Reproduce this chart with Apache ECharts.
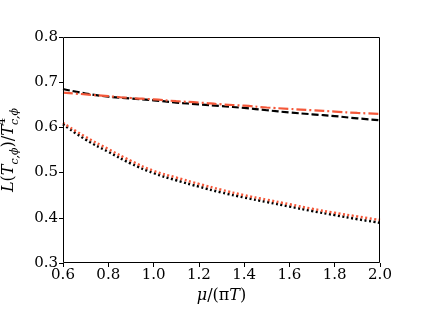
<!DOCTYPE html>
<html><head><meta charset="utf-8">
<script src="https://cdn.jsdelivr.net/npm/echarts@6/dist/echarts.min.js"></script>
<style>html,body{margin:0;padding:0;background:#fff}#c{width:422px;height:317px}</style>
</head><body><div id="c"></div>
<script>
var mu = [0.6, 0.7, 0.8, 0.9, 1.0, 1.1, 1.2, 1.3, 1.4, 1.5, 1.6, 1.7, 1.8, 1.9, 2.0];
var blackDashed = [0.685, 0.675, 0.668, 0.664, 0.660, 0.655, 0.651, 0.647, 0.643, 0.638, 0.633, 0.629, 0.625, 0.620, 0.616];
var redDashDot  = [0.677, 0.673, 0.669, 0.665, 0.662, 0.658, 0.655, 0.651, 0.648, 0.644, 0.641, 0.638, 0.635, 0.632, 0.630];
var blackDotted = [0.607, 0.573, 0.546, 0.520, 0.499, 0.483, 0.469, 0.456, 0.445, 0.435, 0.425, 0.415, 0.406, 0.397, 0.389];
var redDotted   = [0.610, 0.579, 0.552, 0.526, 0.504, 0.489, 0.475, 0.462, 0.450, 0.440, 0.430, 0.420, 0.411, 0.403, 0.395];
var xTicks = [0.6, 0.8, 1.0, 1.2, 1.4, 1.6, 1.8, 2.0];

function pairs(ys){ return mu.map(function(x,i){ return [x, ys[i]]; }); }
var serifName = 'DejaVu Serif';
var serif = '"DejaVu Serif", "Liberation Serif", serif';
var red = '#f4583a';

// y-axis title built from pieces (rotated)
var cv = document.createElement('canvas').getContext('2d');
function w(txt, size, italic){ cv.font = (italic?'italic ':'') + size + 'px "' + serifName + '"'; return cv.measureText(txt).width; }
var pieces = [
  {t:'L', s:16, i:true, dy:0},
  {t:'(', s:16, i:false, dy:0},
  {t:'T', s:16, i:true, dy:0},
  {t:'c,ϕ', s:11, i:true, dy:4},
  {t:')/', s:16, i:false, dy:0},
  {t:'T', s:16, i:true, dy:0},
  {t:'4', s:11, i:false, dy:-9, stack:true},
  {t:'c,ϕ', s:11, i:true, dy:4}
];
var xpos = 0, els = [], stackX = null;
pieces.forEach(function(p){
  var x = xpos;
  if (p.stack) { stackX = xpos; }
  else if (stackX !== null) { x = stackX; }
  els.push({type:'text', x:x, y:p.dy, style:{text:p.t, font:(p.i?'italic ':'') + p.s + 'px ' + serif, fill:'#000', align:'left', verticalAlign:'bottom', textAlign:'left', textVerticalAlign:'bottom'}});
  var ww = w(p.t, p.s, p.i);
  if (p.stack) { p._w = ww; }
  else if (stackX !== null) { xpos = stackX + Math.max(ww, pieces[6]._w); }
  else xpos += ww;
});
var totalW = xpos;
els.forEach(function(e){ e.x -= totalW/2; });

var chart = echarts.init(document.getElementById('c'));
function line(data, color, dash, width, z){
  return {type:'line', data: pairs(data), showSymbol:false, smooth:true, z:z,
    lineStyle:{color:color, width:width, type:dash, cap:'butt'}};
}
chart.setOption({
  animation:false,
  grid:{left:63, right:42, top:37, bottom:54},
  xAxis:{type:'value', min:0.6, max:2.0, interval:0.2,
    axisLine:{show:false},
    axisTick:{show:true, length:4, lineStyle:{color:'#000'}},
    splitLine:{show:false},
    axisLabel:{color:'#000', fontFamily:serif, fontSize:15, margin:5,
      formatter:function(v){ return v.toFixed(1); }},
    name:'{i|μ}/(π{i|T})', nameLocation:'middle', nameGap:25,
    nameTextStyle:{color:'#000', fontFamily:serif, fontSize:16,
      rich:{i:{fontFamily:serif, fontStyle:'italic', fontSize:16, color:'#000'}}}
  },
  yAxis:{type:'value', min:0.3, max:0.8, interval:0.1,
    axisLine:{show:false},
    axisTick:{show:true, length:4, lineStyle:{color:'#000'}},
    splitLine:{show:false},
    axisLabel:{color:'#000', fontFamily:serif, fontSize:15, margin:5,
      formatter:function(v){ return v.toFixed(1); }}
  },
  graphic:[
    {type:'rect', shape:{x:63.5, y:37.5, width:316, height:225}, style:{fill:'none', stroke:'#000', lineWidth:1}, z:10, silent:true},
    {type:'group', x:17, y:150, rotation:Math.PI/2, children:els, silent:true}
  ],
  series:[
    line(blackDashed, '#000', [7,3], 2.2, 2),
    line(redDashDot, red, [10,3,2,3], 2.2, 3),
    line(blackDotted, '#000', [2,2.5], 2.5, 2),
    line(redDotted, red, [2,2.5], 2.5, 3)
  ]
});
</script></body></html>
